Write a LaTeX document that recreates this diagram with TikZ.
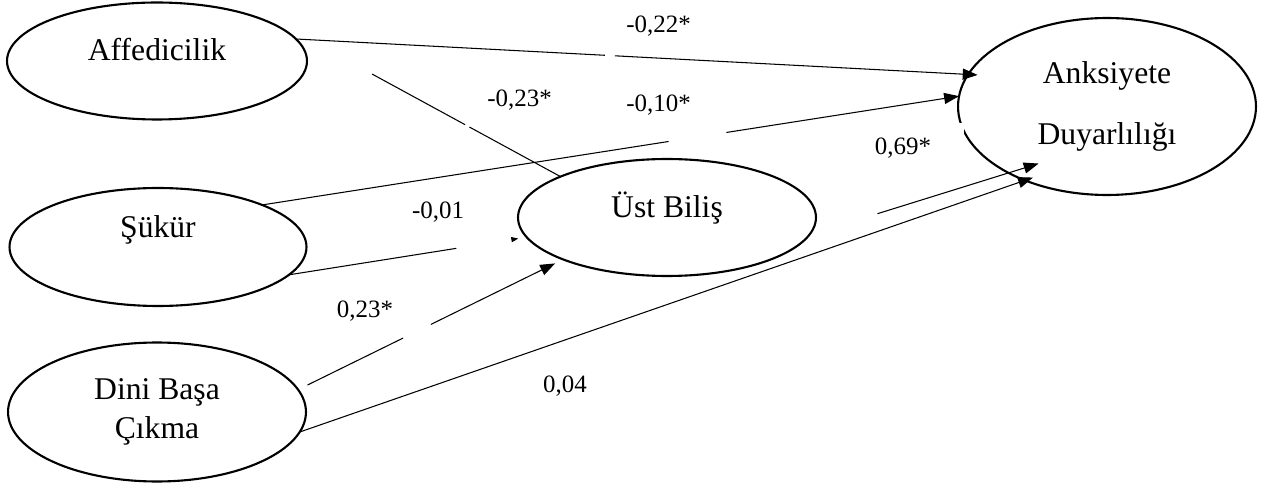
\documentclass[tikz,border=0pt]{standalone}
\usepackage{fontspec}
\setmainfont{Liberation Serif}
\usetikzlibrary{shapes.geometric,arrows.meta}

\begin{document}
\begin{tikzpicture}[x=0.02cm,y=-0.02cm,
  var/.style={draw,ellipse,line width=1.2pt,inner sep=0pt,outer sep=0pt,
    minimum width=5.96cm,minimum height=2.34cm,align=center,
    font=\fontsize{18}{22.4}\selectfont},
  lift/.style={text height=11.9pt,text depth=#1},
  coef/.style={inner sep=1pt,font=\fontsize{14.2}{17}\selectfont},
  arr/.style={line width=0.6pt,-{Triangle[length=8.5pt,width=6.3pt]}}]
\useasboundingbox (0,0) rectangle (1270,489);

\node[var,minimum width=6cm,lift=12.5pt] (aff) at (157,61) {Affedicilik};
\node[var,minimum width=5.94cm,minimum height=2.36cm,lift=22.2pt] (suk) at (158,247) {Şükür};
\node[var,minimum height=2.78cm] (dini) at (157,412) {Dini Başa\\Çıkma};
\node[var,lift=12.3pt] (ust) at (667,217.5) {Üst Biliş};
\node[var,minimum height=3.54cm] (ank) at (1107,106.5) {Anksiyete\\[12.7pt]Duyarlılığı};

\coordinate (s23) at (372,74);

\draw[arr,shorten >=-0.19cm,dash pattern=on 6.19cm off 0.2cm on 20cm] (aff.9) -- (ank.167);
\draw[line width=0.6pt,dash pattern=on 2.12cm off 0.1cm on 20cm] (s23) -- (ust.159);
\draw[arr,dash pattern=on 8.23cm off 1.17cm on 20cm] (suk.22) -- (ank.176);
\draw[line width=0.6pt,-{Triangle[length=4pt,width=2.9pt]},shorten >=0.17cm,
  dash pattern=on 3.39cm off 20cm] (suk.-12) -- (ust.188);
\draw[arr,shorten <=0.21cm,shorten >=0.18cm,dash pattern=on 2.13cm off 0.62cm on 20cm] (dini.9) -- (ust.202);
\draw[arr,shorten <=1.43cm,shorten >=-0.63cm] (ust.-7) -- (ank.214);
\draw[arr,shorten >=-0.17cm] (dini.-8) -- (ank.222);

\node[coef] (b22) at (658.5,26.5) {-0,22*};
\node[coef] (b23) at (519.5,100) {-0,23*};
\node[coef] (b10) at (658.5,105) {-0,10*};
\node[coef] (b01) at (438,212.5) {-0,01};
\node[coef] (b23d) at (365,311) {0,23*};
\node[coef,fill=white,inner xsep=18.5pt,inner ysep=8.5pt] (b69) at (903,148) {0,69*};
\node[coef] (b04) at (565,386) {0,04};
\end{tikzpicture}
\end{document}
